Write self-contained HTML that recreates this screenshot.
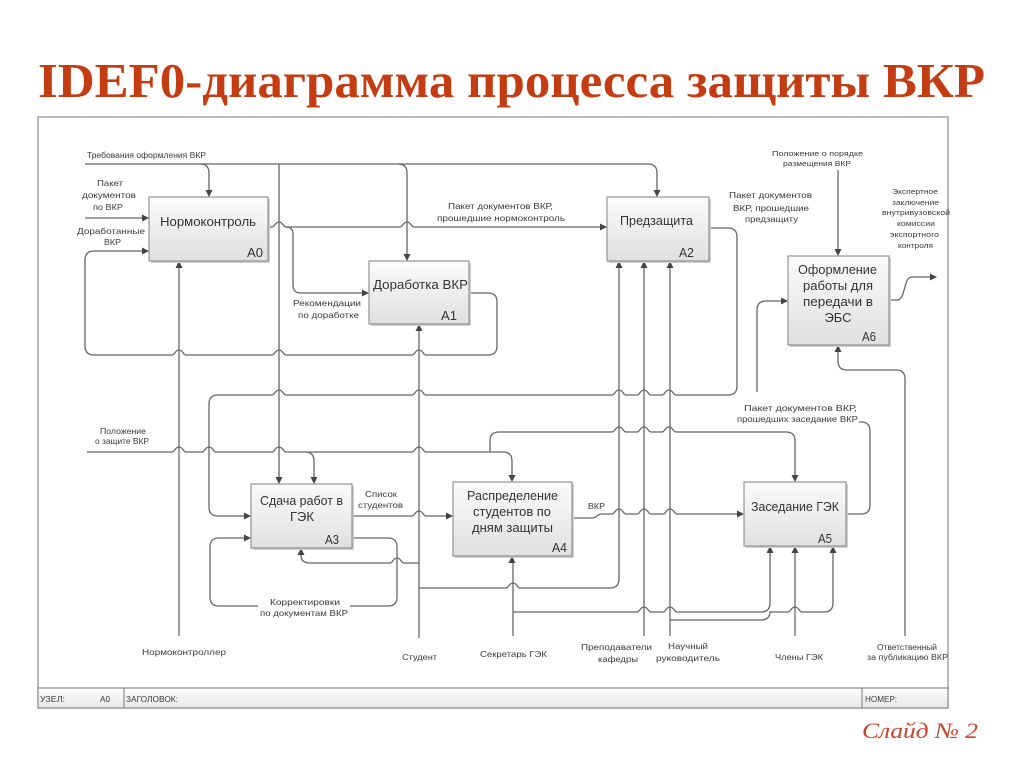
<!DOCTYPE html>
<html><head><meta charset="utf-8"><style>
html,body{margin:0;padding:0;background:#fff;}
svg{display:block;}
.l{fill:none;stroke:#666;stroke-width:1.3;}
.a{fill:#444;}
.t{font-family:"Liberation Sans","DejaVu Sans",sans-serif;font-size:8.5px;fill:#3a3a3a;}
.b{font-family:"Liberation Sans","DejaVu Sans",sans-serif;font-size:13px;fill:#333;}
.box{fill:url(#g);stroke:#808080;stroke-width:1;}
.sh{fill:#d0d0d0;}
</style></head><body>
<svg width="1024" height="767" viewBox="0 0 1024 767" xmlns="http://www.w3.org/2000/svg">
<defs>
<linearGradient id="g" x1="0" y1="0" x2="0" y2="1"><stop offset="0" stop-color="#fbfbfb"/><stop offset="1" stop-color="#e0e0e0"/></linearGradient>
<linearGradient id="g2" x1="0" y1="0" x2="0" y2="1"><stop offset="0" stop-color="#fdfdfd"/><stop offset="1" stop-color="#e8e8e8"/></linearGradient>
</defs>
<rect width="1024" height="767" fill="#fff"/>
<text x="38" y="97" font-family="Liberation Serif, serif" font-weight="bold" font-size="49" textLength="947" lengthAdjust="spacingAndGlyphs" fill="#c43c12">IDEF0-диаграмма процесса защиты ВКР</text>

<!-- frame -->
<rect x="38" y="117" width="910" height="591" fill="none" stroke="#8a8a8a" stroke-width="1.2"/>
<rect x="38" y="688" width="910" height="20" fill="url(#g2)" stroke="#8a8a8a" stroke-width="1.2"/>
<line x1="124" y1="688" x2="124" y2="708" stroke="#8a8a8a" stroke-width="1.2"/>
<line x1="862" y1="688" x2="862" y2="708" stroke="#8a8a8a" stroke-width="1.2"/>
<text class="t" x="40" y="702" textLength="25" lengthAdjust="spacingAndGlyphs">УЗЕЛ:</text>
<text class="t" x="100" y="702" textLength="10" lengthAdjust="spacingAndGlyphs">A0</text>
<text class="t" x="126" y="702" textLength="52" lengthAdjust="spacingAndGlyphs">ЗАГОЛОВОК:</text>
<text class="t" x="865" y="702" textLength="32" lengthAdjust="spacingAndGlyphs">НОМЕР:</text>

<!-- connectors -->
<g class="l">
<path d="M85,164 H200 Q209,164 209,173 V190"/>
<path d="M200,164 H398 Q407,164 407,173 V254"/>
<path d="M398,164 H648 Q657,164 657,173 V190"/>
<path d="M279,164 V477"/>
<path d="M268,227 H272 C275,227 275,222 279,222 C283,222 283,227 286,227 Q293,227 293,234 V285 Q293,293 301,293 H362"/>
<path d="M286,227 H400 C403,227 403,222 407,222 C411,222 411,227 414,227 H600"/>
<path d="M85,218 H142"/>
<path d="M469,293 H488 Q497,293 497,302 V346 Q497,355 488,355 H426 C423,355 423,350 419,350 C415,350 415,355 412,355 H286 C283,355 283,350 279,350 C275,350 275,355 272,355 H186 C183,355 183,350 179,350 C175,350 175,355 172,355 H94 Q85,355 85,346 V260 Q85,251 94,251 H142"/>
<path d="M179,636 V268"/>
<path d="M419,638 V331"/>
<path d="M709,228 H728 Q737,228 737,237 V386 Q737,395 728,395 H676 C673,395 673,390 669,390 C665,390 665,395 662,395 H651 C648,395 648,390 644,390 C640,390 640,395 637,395 H626 C623,395 623,390 619,390 C615,390 615,395 612,395 H426 C423,395 423,390 419,390 C415,390 415,395 412,395 H286 C283,395 283,390 279,390 C275,390 275,395 272,395 H218 Q209,395 209,404 V507 Q209,516 218,516 H244"/>
<path d="M87,452 H172 C175,452 175,447 179,447 C183,447 183,452 186,452 H202 C205,452 205,447 209,447 C213,447 213,452 216,452 H272 C275,452 275,447 279,447 C283,447 283,452 286,452 H305 Q314,452 314,461 V477"/>
<path d="M305,452 H412 C415,452 415,447 419,447 C423,447 423,452 426,452 H503 Q512,452 512,461 V475"/>
<path d="M490,452 V441 Q490,432 499,432 H612 C615,432 615,427 619,427 C623,427 623,432 626,432 H637 C640,432 640,427 644,427 C648,427 648,432 651,432 H662 C665,432 665,427 669,427 C673,427 673,432 676,432 H786 Q795,432 795,441 V475"/>
<path d="M352,516 H412 C415,516 415,511 419,511 C423,511 423,516 426,516 H446"/>
<path d="M352,538 H388 Q397,538 397,547 V597 Q397,606 388,606 H350"/>
<path d="M258,606 H219 Q210,606 210,597 V547 Q210,538 219,538 H244"/>
<path d="M419,563 H404 C401,563 401,558 397,558 C393,558 393,563 390,563 H310 Q301,563 301,555"/>
<path d="M419,588 H506 C509,588 509,583 513,583 C517,583 517,588 520,588 H610 Q619,588 619,579 V268"/>
<path d="M644,636 V268"/>
<path d="M670,636 V268"/>
<path d="M670,620 H761 Q770,620 770,611"/>
<path d="M513,636 V563"/>
<path d="M513,612 H637 C640,612 640,607 644,607 C648,607 648,612 651,612 H663 C666,612 666,607 670,607 C674,607 674,612 677,612 H761 Q770,612 770,603 V553"/>
<path d="M770,612 H788 C791,612 791,607 795,607 C799,607 799,612 802,612 H824 Q833,612 833,603 V553"/>
<path d="M795,636 V553"/>
<path d="M572,518 H592 C597,518 597,514 602,514 H612 C615,514 615,509 619,509 C623,509 623,514 626,514 H637 C640,514 640,509 644,509 C648,509 648,514 651,514 H663 C666,514 666,509 670,509 C674,509 674,514 677,514 H737"/>
<path d="M846,514 H861 Q870,514 870,505 V431 Q870,422 861,422 H859"/>
<path d="M757,392 V310 Q757,301 766,301 H781"/>
<path d="M838,170 V249"/>
<path d="M889,300 H897 C906,300 903,277 912,277 H930"/>
<path d="M905,636 V379 Q905,370 896,370 H847 Q838,370 838,361 V352"/>
</g>

<!-- arrowheads -->
<g class="a">
<polygon points="205.5,190 212.5,190 209,197"/>
<polygon points="403.5,254 410.5,254 407,261"/>
<polygon points="653.5,190 660.5,190 657,197"/>
<polygon points="275.5,477 282.5,477 279,484"/>
<polygon points="310.5,477 317.5,477 314,484"/>
<polygon points="508.5,475 515.5,475 512,482"/>
<polygon points="791.5,475 798.5,475 795,482"/>
<polygon points="834.5,249 841.5,249 838,256"/>
<polygon points="175.5,268 182.5,268 179,261"/>
<polygon points="415.5,331 422.5,331 419,324"/>
<polygon points="615.5,268 622.5,268 619,261"/>
<polygon points="640.5,268 647.5,268 644,261"/>
<polygon points="666.5,268 673.5,268 670,261"/>
<polygon points="297.5,555 304.5,555 301,548"/>
<polygon points="508.5,563 515.5,563 512,556"/>
<polygon points="766.5,553 773.5,553 770,546"/>
<polygon points="791.5,553 798.5,553 795,546"/>
<polygon points="829.5,553 836.5,553 833,546"/>
<polygon points="834.5,352 841.5,352 838,345"/>
<polygon points="142,214.5 142,221.5 149,218"/>
<polygon points="142,247.5 142,254.5 149,251"/>
<polygon points="362,289.5 362,296.5 369,293"/>
<polygon points="600,223.5 600,230.5 607,227"/>
<polygon points="244,512.5 244,519.5 251,516"/>
<polygon points="244,534.5 244,541.5 251,538"/>
<polygon points="446,512.5 446,519.5 453,516"/>
<polygon points="737,510.5 737,517.5 744,514"/>
<polygon points="781,297.5 781,304.5 788,301"/>
<polygon points="930,273.5 930,280.5 937,277"/>
</g>

<!-- boxes -->
<g>
<rect class="sh" x="151" y="199" width="119" height="64"/>
<rect class="box" x="149" y="197" width="119" height="64"/>
<rect class="sh" x="371" y="263" width="100" height="63"/>
<rect class="box" x="369" y="261" width="100" height="63"/>
<rect class="sh" x="609" y="199" width="102" height="64"/>
<rect class="box" x="607" y="197" width="102" height="64"/>
<rect class="sh" x="790" y="258" width="101" height="89"/>
<rect class="box" x="788" y="256" width="101" height="89"/>
<rect class="sh" x="253" y="486" width="101" height="64"/>
<rect class="box" x="251" y="484" width="101" height="64"/>
<rect class="sh" x="455" y="484" width="119" height="74"/>
<rect class="box" x="453" y="482" width="119" height="74"/>
<rect class="sh" x="746" y="484" width="102" height="64"/>
<rect class="box" x="744" y="482" width="102" height="64"/>
</g>

<!-- box texts -->
<text class="b" x="160" y="226" textLength="96" lengthAdjust="spacingAndGlyphs">Нормоконтроль</text>
<text class="b" x="247" y="257" textLength="16" lengthAdjust="spacingAndGlyphs">A0</text>
<text class="b" x="373" y="289" textLength="95" lengthAdjust="spacingAndGlyphs">Доработка ВКР</text>
<text class="b" x="441" y="320" textLength="16" lengthAdjust="spacingAndGlyphs">A1</text>
<text class="b" x="620" y="225" textLength="73" lengthAdjust="spacingAndGlyphs">Предзащита</text>
<text class="b" x="679" y="257" textLength="15" lengthAdjust="spacingAndGlyphs">A2</text>
<text class="b" x="798" y="274" textLength="79" lengthAdjust="spacingAndGlyphs">Оформление</text>
<text class="b" x="803" y="290" textLength="70" lengthAdjust="spacingAndGlyphs">работы для</text>
<text class="b" x="803" y="306" textLength="70" lengthAdjust="spacingAndGlyphs">передачи в</text>
<text class="b" x="838" y="322" text-anchor="middle">ЭБС</text>
<text class="b" x="862" y="341" textLength="14" lengthAdjust="spacingAndGlyphs">A6</text>
<text class="b" x="260" y="505" textLength="83" lengthAdjust="spacingAndGlyphs">Сдача работ в</text>
<text class="b" x="302" y="521" text-anchor="middle">ГЭК</text>
<text class="b" x="325" y="544" textLength="14" lengthAdjust="spacingAndGlyphs">A3</text>
<text class="b" x="467" y="500" textLength="91" lengthAdjust="spacingAndGlyphs">Распределение</text>
<text class="b" x="473" y="516" textLength="78" lengthAdjust="spacingAndGlyphs">студентов по</text>
<text class="b" x="472" y="532" textLength="81" lengthAdjust="spacingAndGlyphs">дням защиты</text>
<text class="b" x="552" y="552" textLength="15" lengthAdjust="spacingAndGlyphs">A4</text>
<text class="b" x="751" y="511" textLength="88" lengthAdjust="spacingAndGlyphs">Заседание ГЭК</text>
<text class="b" x="818" y="543" textLength="14" lengthAdjust="spacingAndGlyphs">A5</text>

<!-- labels -->
<g class="t">
<text x="87" y="158" textLength="119" lengthAdjust="spacingAndGlyphs">Требования оформления ВКР</text>
<text x="97" y="186" textLength="26" lengthAdjust="spacingAndGlyphs">Пакет</text>
<text x="82" y="198" textLength="54" lengthAdjust="spacingAndGlyphs">документов</text>
<text x="93" y="210" textLength="30" lengthAdjust="spacingAndGlyphs">по ВКР</text>
<text x="77" y="234" textLength="68" lengthAdjust="spacingAndGlyphs">Доработанные</text>
<text x="104" y="245" textLength="17" lengthAdjust="spacingAndGlyphs">ВКР</text>
<text x="448" y="209" textLength="105" lengthAdjust="spacingAndGlyphs">Пакет документов ВКР,</text>
<text x="437" y="221" textLength="128" lengthAdjust="spacingAndGlyphs">прошедшие нормоконтроль</text>
<text x="293" y="306" textLength="68" lengthAdjust="spacingAndGlyphs">Рекомендации</text>
<text x="298" y="318" textLength="61" lengthAdjust="spacingAndGlyphs">по доработке</text>
<text x="729" y="198" textLength="83" lengthAdjust="spacingAndGlyphs">Пакет документов</text>
<text x="733" y="211" textLength="76" lengthAdjust="spacingAndGlyphs">ВКР, прошедшие</text>
<text x="745" y="222" textLength="53" lengthAdjust="spacingAndGlyphs">предзащиту</text>
<text x="772" y="156" textLength="91" lengthAdjust="spacingAndGlyphs" style="font-size:7.5px">Положение о порядке</text>
<text x="783" y="166" textLength="68" lengthAdjust="spacingAndGlyphs" style="font-size:7.5px">размещения ВКР</text>
<g style="font-size:7.5px">
<text x="892" y="194" textLength="46" lengthAdjust="spacingAndGlyphs">Экспертное</text>
<text x="892" y="205" textLength="47" lengthAdjust="spacingAndGlyphs">заключение</text>
<text x="882" y="215" textLength="68" lengthAdjust="spacingAndGlyphs">внутривузовской</text>
<text x="897" y="226" textLength="38" lengthAdjust="spacingAndGlyphs">комиссии</text>
<text x="890" y="237" textLength="49" lengthAdjust="spacingAndGlyphs">экспортного</text>
<text x="898" y="248" textLength="35" lengthAdjust="spacingAndGlyphs">контроля</text>
</g>
<text x="100" y="434" textLength="46" lengthAdjust="spacingAndGlyphs">Положение</text>
<text x="95" y="444" textLength="54" lengthAdjust="spacingAndGlyphs">о защите ВКР</text>
<text x="365" y="497" textLength="32" lengthAdjust="spacingAndGlyphs">Список</text>
<text x="358" y="508" textLength="45" lengthAdjust="spacingAndGlyphs">студентов</text>
<text x="588" y="509" textLength="17" lengthAdjust="spacingAndGlyphs">ВКР</text>
<text x="744" y="411" textLength="113" lengthAdjust="spacingAndGlyphs">Пакет документов ВКР,</text>
<text x="737" y="422" textLength="121" lengthAdjust="spacingAndGlyphs">прошедших заседание ВКР</text>
<text x="270" y="605" textLength="70" lengthAdjust="spacingAndGlyphs">Корректировки</text>
<text x="260" y="616" textLength="88" lengthAdjust="spacingAndGlyphs">по документам ВКР</text>
<text x="142" y="655" textLength="84" lengthAdjust="spacingAndGlyphs">Нормоконтроллер</text>
<text x="402" y="660" textLength="35" lengthAdjust="spacingAndGlyphs">Студент</text>
<text x="480" y="657" textLength="67" lengthAdjust="spacingAndGlyphs">Секретарь ГЭК</text>
<text x="581" y="650" textLength="71" lengthAdjust="spacingAndGlyphs">Преподаватели</text>
<text x="598" y="662" textLength="40" lengthAdjust="spacingAndGlyphs">кафедры</text>
<text x="668" y="649" textLength="40" lengthAdjust="spacingAndGlyphs">Научный</text>
<text x="656" y="661" textLength="64" lengthAdjust="spacingAndGlyphs">руководитель</text>
<text x="775" y="660" textLength="48" lengthAdjust="spacingAndGlyphs">Члены ГЭК</text>
<text x="877" y="650" textLength="60" lengthAdjust="spacingAndGlyphs">Ответственный</text>
<text x="867" y="660" textLength="81" lengthAdjust="spacingAndGlyphs">за публикацию ВКР</text>
</g>

<text x="862" y="738" font-family="Liberation Serif, serif" font-style="italic" font-size="22" textLength="116" lengthAdjust="spacingAndGlyphs" fill="#c8442a">Слайд № 2</text>
</svg>
</body></html>
